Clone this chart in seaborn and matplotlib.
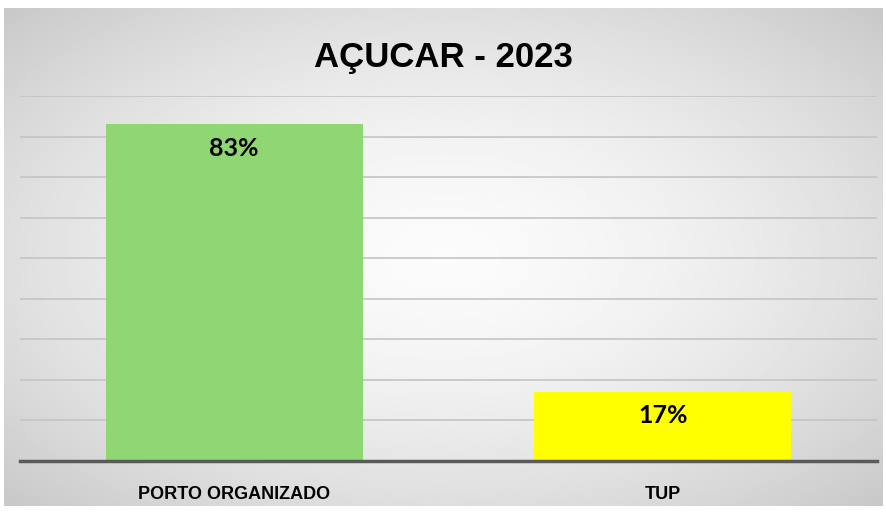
import matplotlib
matplotlib.use("Agg")
import matplotlib.pyplot as plt
import seaborn as sns
import numpy as np
import pandas as pd

categories = ["PORTO ORGANIZADO", "TUP"]
shares = [0.83, 0.17]
bar_colors = ["#8fd773", "#ffff00"]
title = "AÇUCAR - 2023"

df = pd.DataFrame({"categoria": categories, "share": shares})

sns.set_theme(style="white")
plt.rcParams["font.family"] = ["Liberation Sans Narrow", "Liberation Sans", "DejaVu Sans"]
plt.rcParams["text.color"] = "black"
plt.rcParams["xtick.color"] = "black"

fig = plt.figure(figsize=(8.87, 5.12), dpi=100)
fig.patch.set_facecolor("white")

# radial gray gradient behind the chart
bg = fig.add_axes([4 / 887, 6 / 512, 879 / 887, 498 / 512])
yy, xx = np.mgrid[-1:1:300j, -1:1:500j]
r = np.sqrt(xx ** 2 + yy ** 2) / np.sqrt(2)
shade = 0.985 - 0.20 * r ** 1.6
bg.imshow(shade, cmap="gray", vmin=0, vmax=1, aspect="auto", extent=[0, 1, 0, 1])
bg.set_axis_off()

ax = fig.add_axes([20 / 887, 51 / 512, 857 / 887, 365 / 512])
ax.patch.set_alpha(0)
sns.barplot(data=df, x="categoria", y="share", hue="categoria", palette=bar_colors,
            width=0.6, legend=False, ax=ax, zorder=3, saturation=1, linewidth=0)

ax.set_ylim(0, 0.9)
ax.set_xlim(-0.5, 1.5)
ax.set_yticks(np.arange(0, 0.91, 0.1))
ax.yaxis.grid(True, color="#c4c4c4", lw=1.2, zorder=0)
ax.set_axisbelow(True)
for s in ["top", "right", "left"]:
    ax.spines[s].set_visible(False)
ax.spines["bottom"].set_color("#5a5a5a")
ax.spines["bottom"].set_linewidth(2.5)
ax.spines["bottom"].set_zorder(4)
ax.tick_params(axis="y", left=False, labelleft=False)
ax.tick_params(axis="x", bottom=False, pad=12, colors="black")
ax.set_xlabel("")
ax.set_ylabel("")
for lbl in ax.get_xticklabels():
    lbl.set_fontweight("bold")
    lbl.set_fontsize(13)

for i, v in enumerate(shares):
    ax.text(i, v - 0.03, f"{round(v * 100)}%", ha="center", va="top", color="black",
            fontsize=18, fontweight="bold", family=["Lato", "DejaVu Sans"], zorder=5)

fig.text(0.5, 0.888, title, ha="center", va="center", fontsize=25, fontweight="bold",
         color="black")

fig.savefig("out.png", dpi=100)
